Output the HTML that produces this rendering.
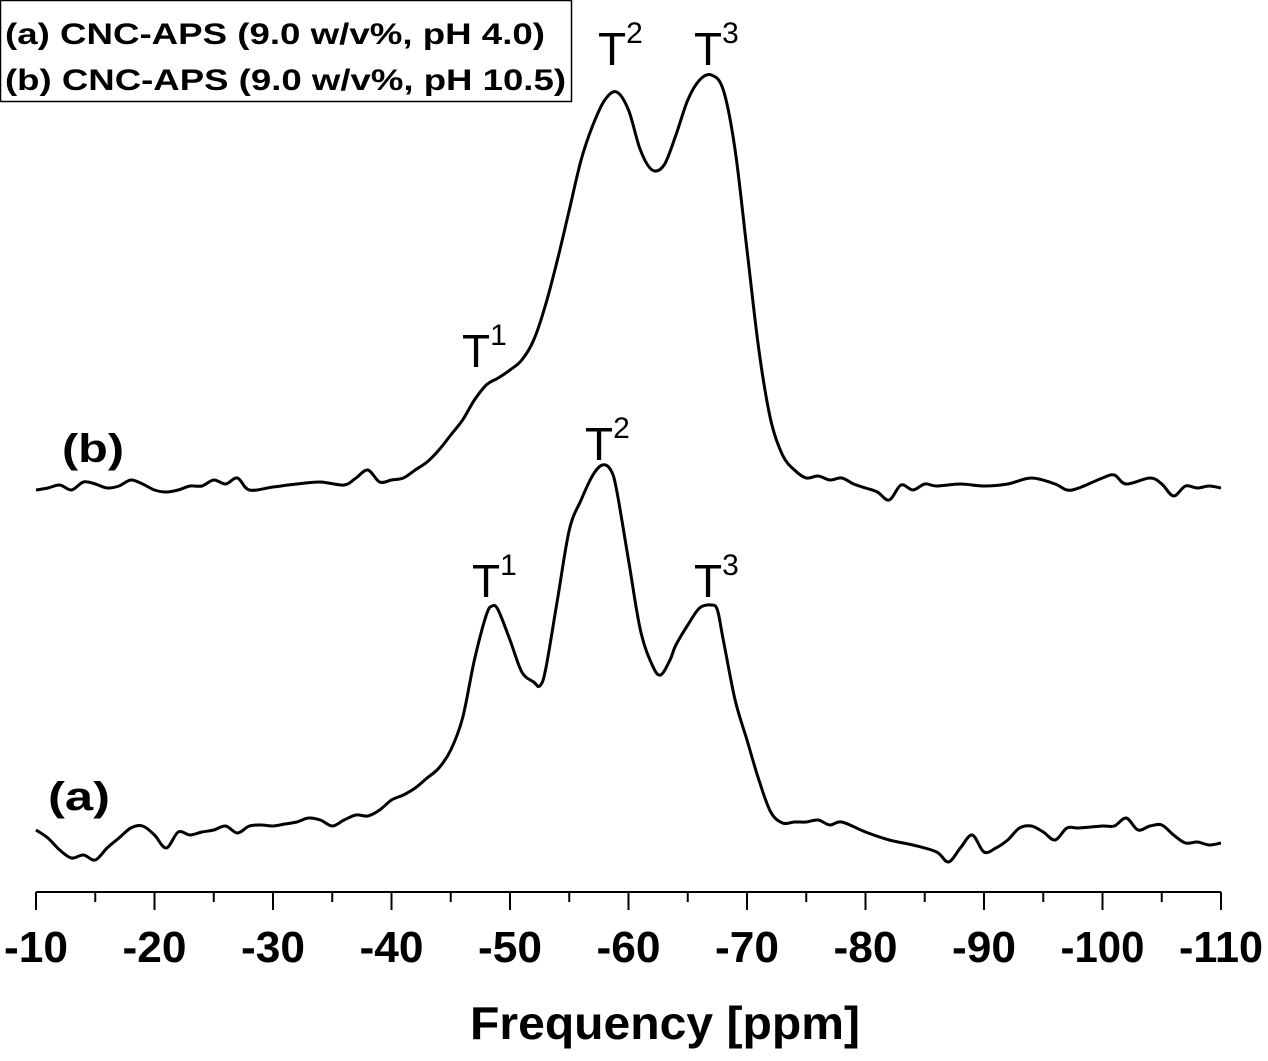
<!DOCTYPE html>
<html><head><meta charset="utf-8"><style>
html,body{margin:0;padding:0;background:#fff;}
svg{display:block;font-family:"Liberation Sans",Arial,sans-serif;}
</style></head><body>
<svg id="chart" width="1268" height="1061" viewBox="0 0 1268 1061">
<rect x="0" y="0" width="1268" height="1061" fill="#fff"/>
<g>
<rect x="0.5" y="0.5" width="571" height="101" fill="#fff" stroke="#000" stroke-width="1.5"/>
<text x="5" y="44" font-size="30" font-weight="bold" textLength="540" lengthAdjust="spacingAndGlyphs">(a) CNC-APS (9.0 w/v%, pH 4.0)</text>
<text x="5" y="90" font-size="30" font-weight="bold" textLength="561" lengthAdjust="spacingAndGlyphs">(b) CNC-APS (9.0 w/v%, pH 10.5)</text>
</g>
<g id="axis"></g>
<g id="series"></g>
<text x="48" y="810" font-size="40" font-weight="bold" textLength="62" lengthAdjust="spacingAndGlyphs">(a)</text>
<text x="62" y="462" font-size="40" font-weight="bold" textLength="62" lengthAdjust="spacingAndGlyphs">(b)</text>
<g font-size="46">
<text x="472" y="597">T<tspan dy="-22" font-size="30">1</tspan></text>
<text x="585" y="460">T<tspan dy="-22" font-size="30">2</tspan></text>
<text x="694" y="597">T<tspan dy="-22" font-size="30">3</tspan></text>
<text x="462" y="367">T<tspan dy="-22" font-size="30">1</tspan></text>
<text x="598" y="65">T<tspan dy="-22" font-size="30">2</tspan></text>
<text x="694" y="65">T<tspan dy="-22" font-size="30">3</tspan></text>
</g>
<text x="470" y="1039" font-size="46" font-weight="bold" textLength="390" lengthAdjust="spacingAndGlyphs">Frequency [ppm]</text>
</svg>
<script>
const ppmA = [-10,-11,-12,-13,-14,-15,-16,-17,-18,-19,-20,-21,-22,-23,-24,-25,-26,-27,-28,-29,-30,-31,-32,-33,-34,-35,-36,-37,-38,-39,-40,-41,-42,-43,-44,-45,-46,-47,-48,-48.5,-49,-50,-51,-52,-52.5,-53,-54,-55,-56,-57,-57.8,-58.5,-59,-60,-61,-62,-62.7,-63.5,-64,-65,-66,-67,-67.5,-68,-69,-70,-71,-72,-73,-74,-75,-76,-77,-78,-80,-82,-84,-86,-87,-88,-89,-90,-91,-92,-93,-94,-95,-96,-97,-98,-100,-101,-102,-103,-104,-105,-106,-107,-108,-109,-110];
const signalA = [70,62,50,42,45,40,52,62,72,74,65,52,68,65,68,70,74,67,74,75,74,76,78,82,80,74,80,85,84,90,100,105,112,122,132,150,182,240,285,294,290,260,228,218,214,230,300,370,400,425,435,430,410,340,270,235,225,240,255,275,292,295,290,260,200,160,120,88,77,78,78,80,75,78,68,60,55,48,38,52,65,48,52,60,72,74,68,60,72,72,74,74,82,70,74,75,65,57,58,55,57];
const ppmB = [-10,-11,-12,-13,-14,-15,-16,-17,-18,-19,-20,-21,-22,-23,-24,-25,-26,-27,-28,-30,-32,-34,-36,-37,-38,-39,-40,-41,-42,-43,-44,-45,-46,-47,-48,-49,-50,-51,-52,-53,-54,-55,-56,-57,-58,-59,-60,-61,-62,-63,-64,-65,-66,-67,-68,-69,-70,-71,-72,-73,-74,-75,-76,-77,-78,-79,-80,-81,-82,-83,-84,-85,-86,-88,-90,-92,-94,-96,-97,-98,-100,-101,-102,-104,-105,-106,-107,-108,-109,-110];
const signalB = [410,412,415,410,418,416,412,414,420,416,410,408,410,414,414,420,416,422,410,413,416,418,415,422,430,418,420,422,430,438,450,465,480,500,515,522,530,540,560,595,640,690,740,775,800,808,790,750,730,735,765,800,820,825,810,750,650,550,480,445,430,422,424,420,422,416,412,408,400,415,410,416,414,416,414,416,422,416,410,412,422,425,416,422,416,404,414,412,414,412];
const tickVals = [-10,-20,-30,-40,-50,-60,-70,-80,-90,-100,-110];
const tickLabels = ["-10","-20","-30","-40","-50","-60","-70","-80","-90","-100","-110"];

const NS='http://www.w3.org/2000/svg';
const xScale = v => 36 + (-10 - v) / 100 * 1185;
const yScale = v => 900 - v;
const axis = document.getElementById('axis');
const series = document.getElementById('series');

const base = document.createElementNS(NS,'line');
base.setAttribute('x1',36);base.setAttribute('x2',1221);base.setAttribute('y1',892);base.setAttribute('y2',892);
base.setAttribute('stroke','#000');base.setAttribute('stroke-width',2);


axis.appendChild(base);
for (let i=0;i<tickVals.length;i++){
  const x = xScale(tickVals[i]);
  const t = document.createElementNS(NS,'line');
  t.setAttribute('x1',x);t.setAttribute('x2',x);t.setAttribute('y1',892);t.setAttribute('y2',910);
  t.setAttribute('stroke','#000');t.setAttribute('stroke-width',2);
  
  
  axis.appendChild(t);
  if (i < tickVals.length-1){
    const xm = xScale(tickVals[i]-5);
    const m = document.createElementNS(NS,'line');
    m.setAttribute('x1',xm);m.setAttribute('x2',xm);m.setAttribute('y1',892);m.setAttribute('y2',902);
    m.setAttribute('stroke','#000');m.setAttribute('stroke-width',2);
    
    
    axis.appendChild(m);
  }
  const lb = document.createElementNS(NS,'text');
  const w = tickLabels[i].length === 3 ? 64 : 84;
  lb.setAttribute('x',x - w/2);lb.setAttribute('y',962);
  lb.setAttribute('font-size','44');lb.setAttribute('font-weight','bold');
  lb.setAttribute('textLength',w);lb.setAttribute('lengthAdjust','spacingAndGlyphs');
  lb.textContent = tickLabels[i];
  
  
  axis.appendChild(lb);
}
function drawLine(px, py, name){
  const P = px.map((v,i)=>[xScale(v), yScale(py[i])]);
  let d = 'M' + P[0][0].toFixed(1) + ' ' + P[0][1].toFixed(1);
  for (let i=0;i<P.length-1;i++){
    const p0 = P[Math.max(0,i-1)], p1 = P[i], p2 = P[i+1], p3 = P[Math.min(P.length-1,i+2)];
    const c1x = p1[0] + (p2[0]-p0[0])/6, c1y = p1[1] + (p2[1]-p0[1])/6;
    const c2x = p2[0] - (p3[0]-p1[0])/6, c2y = p2[1] - (p3[1]-p1[1])/6;
    d += 'C'+c1x.toFixed(1)+' '+c1y.toFixed(1)+' '+c2x.toFixed(1)+' '+c2y.toFixed(1)+' '+p2[0].toFixed(1)+' '+p2[1].toFixed(1);
  }
  const p = document.createElementNS(NS,'path');
  p.setAttribute('d',d);p.setAttribute('fill','none');p.setAttribute('stroke','#000');
  p.setAttribute('stroke-width',3);p.setAttribute('stroke-linejoin','round');
  
  
  series.appendChild(p);
}
drawLine(ppmA, signalA, 'spectrum-a-line');
drawLine(ppmB, signalB, 'spectrum-b-line');
</script>
</body></html>
